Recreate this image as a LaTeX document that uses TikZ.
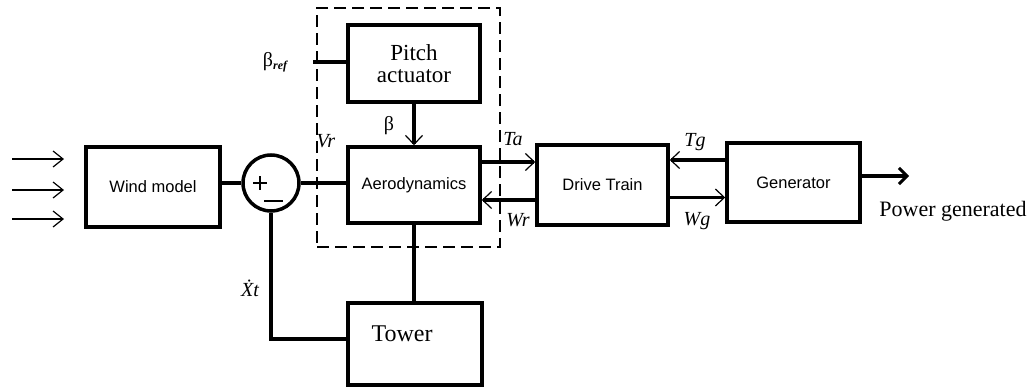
\documentclass[tikz,border=0pt]{standalone}
\usepackage{fontspec}
\setmainfont{Liberation Serif}
\newfontfamily\arialf{Liberation Sans}
\usetikzlibrary{arrows.meta}
\begin{document}
\begin{tikzpicture}[x=1pt,y=-1pt,
  blk/.style={draw,line width=3.5pt,rectangle,inner sep=0pt},
  sanslbl/.style={font=\arialf\fontsize{16.5}{18}\selectfont},
  seriflbl/.style={font=\fontsize{23}{25}\selectfont},
  varlbl/.style={font=\itshape\fontsize{20}{22}\selectfont,inner sep=0pt},
  conn/.style={line width=3.5pt},
  barb/.style={-{Straight Barb[length=9pt,width=17pt,line width=1.2pt]}},
  thinarrow/.style={line width=1.2pt,-{Straight Barb[length=10pt,width=16pt,line width=1.2pt]}},
]
\useasboundingbox (0,0) rectangle (1031,388);
% dashed group
\node[draw,dashed,line width=1.5pt,dash pattern=on 12pt off 6pt,minimum width=183pt,minimum height=239pt,inner sep=0pt] (group) at (408.5,127.5) {};
% blocks
\node[blk,sanslbl,minimum width=134pt,minimum height=80pt] (wind) at (153,187) {Wind model};
\node[draw,circle,line width=3.5pt,minimum size=56pt,inner sep=0pt] (sum) at (271,183) {};
\draw[line width=1.6pt] (253,183) -- (267,183) (260,176) -- (260,190);
\coordinate (mA) at (264,201); \coordinate (mB) at (283,201);
\draw[line width=1.8pt] (mA) -- (mB);
\node[blk,seriflbl,minimum width=132pt,minimum height=77pt,align=center] (pitch) at (414,63.5) {Pitch\\[-3pt]actuator};
\node[blk,sanslbl,minimum width=132pt,minimum height=76pt] (aero) at (414,185) {Aerodynamics};
\node[blk,minimum width=134pt,minimum height=82pt] (tower) at (415,344) {};
\node[font=\fontsize{24}{26}\selectfont] (towerlbl) at (402,334) {Tower};
\node[blk,sanslbl,minimum width=131pt,minimum height=80pt] (drive) at (602.5,185) {Drive Train};
\node[blk,sanslbl,minimum width=133pt,minimum height=79pt] (gen) at (793.5,182.5) {Generator};
% inputs
\coordinate (i1s) at (12,159); \coordinate (i1e) at (64,159);
\coordinate (i2s) at (12,190); \coordinate (i2e) at (64,190);
\coordinate (i3s) at (12,219); \coordinate (i3e) at (64,219);
\draw[thinarrow] (i1s) -- (i1e);
\draw[thinarrow] (i2s) -- (i2e);
\draw[thinarrow] (i3s) -- (i3e);
% connectors
\draw[conn] (sum.west) -- (sum.west -| wind.east);
\draw[conn] (sum.east) -- (sum.east -| aero.west);
\coordinate (bref) at (313,62);
\draw[conn] (bref) -- (bref -| pitch.west);
\draw[conn,barb] (pitch.south) -- (aero.north);
\draw[conn] (aero.south) -- (aero.south |- tower.north);
\draw[conn] (sum.south) |- ([yshift=5pt]tower.west);
\draw[conn,barb] ([yshift=23pt]aero.east) -- ([yshift=23pt]aero.east -| drive.west);
\draw[conn,barb] ([yshift=-15pt]drive.west) -- ([yshift=-15pt]drive.west -| aero.east);
\draw[conn,barb] ([yshift=22.5pt]gen.west) -- ([yshift=22.5pt]gen.west -| drive.east);
\draw[conn,barb] ([yshift=-12.5pt]drive.east) -- ([yshift=-12.5pt]drive.east -| gen.west);
\coordinate (pout) at (909,176);
\draw[conn,-{Straight Barb[length=8pt,width=16pt,line width=3pt]}] (gen.east |- pout) -- (pout);
% labels
\node[font=\fontsize{20}{22}\selectfont,inner sep=0pt] (brefl) at (275,62) {β\raisebox{-3pt}{\fontsize{12}{12}\selectfont\itshape\bfseries ref}};
\node[varlbl] (vr) at (326,141) {Vr};
\node[font=\fontsize{20}{22}\selectfont,inner sep=0pt] (beta) at (389,126) {β};
\node[varlbl] (ta) at (513,139) {Ta};
\node[varlbl] (wr) at (518,220) {Wr};
\node[varlbl] (tg) at (695,142) {Tg};
\node[varlbl] (wg) at (697,221) {Wg};
\node[varlbl] (xt) at (250,288) {\.{X}t};
\node[seriflbl,font=\fontsize{22}{24}\selectfont,inner sep=0pt] (power) at (953,211) {Power generated};
\end{tikzpicture}
\end{document}
